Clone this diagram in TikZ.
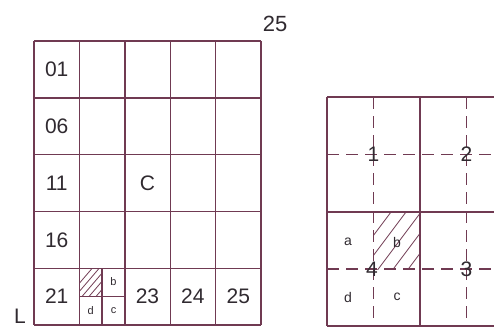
\documentclass[tikz,border=0pt]{standalone}
\usepackage{fontspec}
\setmainfont{Liberation Sans}
\definecolor{sheetline}{RGB}{112,58,82}
\definecolor{labelgray}{RGB}{48,42,48}
\tikzset{
  gridpen/.style={sheetline, line width=1.4pt},
  dashpen/.style={sheetline, line width=1.4pt, dash pattern=on 12pt off 7pt},
  hatchpen/.style={sheetline, line width=0.8pt},
  biglabel/.style={labelgray, font=\fontsize{21}{21}\selectfont, inner sep=0pt},
  smalllabel/.style={labelgray, font=\fontsize{11}{11}\selectfont, inner sep=0pt},
  midlabel/.style={labelgray, font=\fontsize{14}{14}\selectfont, inner sep=0pt},
}

\begin{document}
\begin{tikzpicture}[x=1pt, y=-1pt]
  \useasboundingbox (0,0) rectangle (494,334);
  \clip (0,0) rectangle (494,334);

  % left sheet, 5 x 5 cells
  \foreach \i in {0,...,5} {
    \draw[gridpen] (34+45.4*\i, 41) -- (34+45.4*\i, 325);
    \draw[gridpen] (34, 41+56.8*\i) -- (261, 41+56.8*\i);
  }
  % cell 22 split into a b c d
  \draw[gridpen] (102.1, 268.2) -- (102.1, 325);
  \draw[gridpen] (79.4, 296.6) -- (124.8, 296.6);
  \begin{scope}
    \clip (79.4, 268.2) rectangle (102.1, 296.6);
    \foreach \s in {0,...,8}
      \draw[hatchpen] (65+7*\s, 300) -- (95+7*\s, 265);
  \end{scope}

  \node[biglabel] (n01) at (56.7, 69.5) {01};
  \node[biglabel] (n06) at (56.7, 126.2) {06};
  \node[biglabel] (n11) at (56.7, 183) {11};
  \node[biglabel] (n16) at (56.7, 239.8) {16};
  \node[biglabel] (n21) at (56.7, 296.6) {21};
  \node[biglabel] (n23) at (147.5, 296.6) {23};
  \node[biglabel] (n24) at (192.9, 296.6) {24};
  \node[biglabel] (n25) at (238.3, 296.6) {25};
  \node[biglabel] (center) at (147.5, 183) {C};
  \node[smalllabel] (qb) at (113.5, 282) {b};
  \node[smalllabel] (qd) at (90.8, 310.5) {d};
  \node[smalllabel] (qc) at (113.5, 310.5) {c};
  \node[biglabel, font=\fontsize{22}{22}\selectfont] (count) at (275, 24) {25};
  \node[biglabel] (side) at (20, 316) {L};

  % right sheet, one cell cut in four
  \draw[gridpen] (327, 97) -- (513, 97);
  \draw[gridpen] (327, 212) -- (513, 212);
  \draw[gridpen] (327, 326) -- (513, 326);
  \draw[gridpen] (327, 97) -- (327, 326);
  \draw[gridpen] (420, 97) -- (420, 326);
  \begin{scope}
    \clip (373.5, 212) rectangle (420, 269);
    \foreach \s in {0,...,6}
      \draw[hatchpen] (340+15*\s, 280) -- (400+15*\s, 200);
  \end{scope}
  \draw[dashpen] (373.5, 97) -- (373.5, 326);
  \draw[dashpen] (466.5, 97) -- (466.5, 326);
  \draw[dashpen] (327, 154.5) -- (513, 154.5);
  \draw[dashpen] (327, 269) -- (513, 269);

  \node[biglabel] (p1) at (373.5, 154.5) {1};
  \node[biglabel] (p2) at (466.5, 154.5) {2};
  \node[biglabel] (p3) at (466.5, 269) {3};
  \node[biglabel] (p4) at (372, 269) {4};
  \node[midlabel] (sa) at (348, 242) {a};
  \node[midlabel] (sb) at (397, 242) {b};
  \node[midlabel] (sd) at (348, 297) {d};
  \node[midlabel] (sc) at (397, 297) {c};
\end{tikzpicture}
\end{document}
